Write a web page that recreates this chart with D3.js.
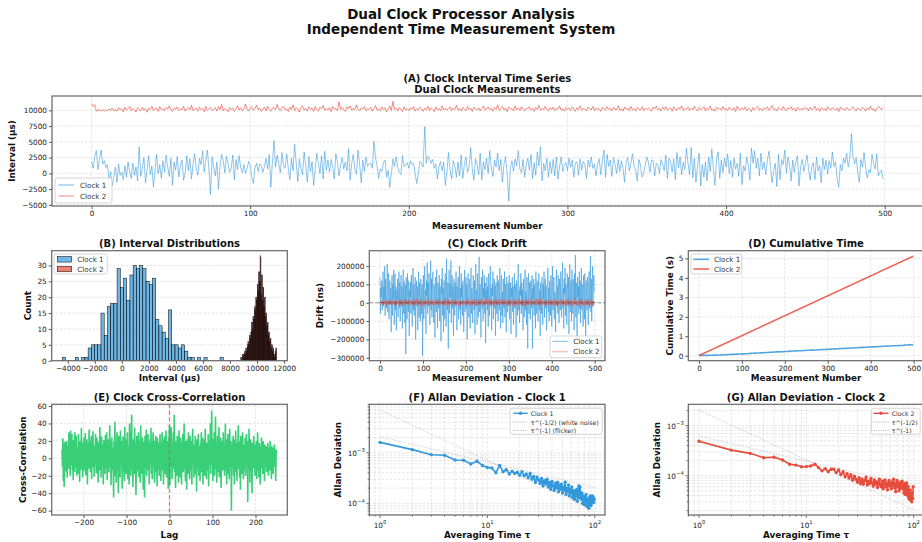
<!DOCTYPE html>
<meta charset="utf-8">
<style>
body { margin: 0; background: #fff; }
svg { font-family: "DejaVu Sans", sans-serif; }
.tick text { font-family: "DejaVu Sans", sans-serif; font-size: 7.3px; fill: #222; }
.tick line { stroke: #555; }
.grid line { stroke: #b0b0b0; stroke-opacity: .55; stroke-width: .6; stroke-dasharray: 2.5,1.6; }
.spine { fill: none; stroke: #666; stroke-width: 1.2; }
.suptitle { font-size: 13.5px; font-weight: bold; text-anchor: middle; fill: #111; }
.title { font-size: 10px; font-weight: bold; text-anchor: middle; fill: #111; }
.label { font-size: 8.8px; font-weight: bold; text-anchor: middle; fill: #111; }
.legend-box { fill: #fff; fill-opacity: .85; stroke: #ccc; stroke-width: .8; }
.legend text { font-size: 7.2px; fill: #333; }
.legend.small text { font-size: 6.2px; }
</style>
<body>
<script src="https://cdn.jsdelivr.net/npm/d3@7"></script>
<script>
// ---- data ----

// Clock 1 interval per measurement, in units of 100 µs
var clock1Interval = [
  19,8,27,36,6,22,37,15,20,9,14,-12,3,-20,-5,10,-14,15,-3,2,-10,12,-6,18,2,
  -8,16,-3,10,-12,42,-5,8,25,-15,6,28,-2,12,-22,5,30,0,14,-8,20,2,29,10,-5,
  24,-19,18,5,27,-6,13,21,-11,0,28,4,23,-9,15,31,8,-3,24,14,36,2,21,37,5,
  -33,26,9,-4,18,-25,12,30,20,1,27,16,2,8,29,-10,22,6,28,10,1,14,0,7,19,
  12,-6,-16,9,16,3,15,12,2,11,24,7,30,-22,18,52,10,29,16,1,33,12,8,31,8,
  -10,24,4,46,17,-13,23,8,-2,34,11,-14,27,3,19,-19,9,32,15,0,28,-9,35,5,21,
  2,22,10,-9,31,18,-4,14,25,7,18,4,39,-11,16,30,5,-1,37,14,-15,21,3,26,11,
  15,16,8,51,24,12,-8,7,3,17,21,-6,5,-22,0,23,11,26,10,2,-2,28,11,13,17,
  8,20,14,16,-1,-16,1,19,16,10,74,16,27,23,16,22,8,15,-9,11,19,4,18,-19,2,
  33,5,-9,20,12,-6,18,-4,29,-8,14,26,2,10,41,7,-11,23,15,-2,32,-10,18,6,24,
  0,36,9,-5,21,10,32,4,22,-14,15,27,-2,-44,8,20,3,23,12,36,7,1,22,-6,14,
  24,5,30,-8,17,-3,34,12,42,-12,16,4,24,-6,19,0,22,-4,26,-9,10,26,3,13,17,
  4,24,10,21,-6,17,18,-3,23,5,19,14,-8,21,10,26,8,15,-4,15,23,-2,20,37,-6,
  30,11,21,-5,25,14,0,22,3,20,8,-14,18,25,4,16,31,11,6,-12,22,14,-6,0,13,
  26,18,2,21,21,-4,16,13,0,22,15,4,29,-8,24,19,2,23,-10,33,9,26,-2,18,6,
  40,16,-2,41,-7,24,-14,11,32,-20,14,-6,18,-12,26,3,39,6,-19,23,34,-8,21,1,24,
  10,31,0,20,-6,24,7,16,-5,32,-18,12,4,26,12,-11,40,16,36,8,24,-4,32,6,18,
  -2,20,35,11,-15,4,16,-21,30,-10,22,14,37,0,26,13,-12,21,2,18,28,-20,10,22,3,
  16,29,7,-11,10,17,-10,26,4,12,-15,24,6,21,-1,20,8,34,11,18,-8,-22,14,4,24,
  16,32,10,23,63,26,15,25,1,-14,22,10,33,8,-7,6,1,30,16,7,31,-4,2,5,-9
];

// Clock 2 interval per measurement, µs
var clock2Interval = [
  11080,10620,10900,9830,10110,9960,9900,10090,9850,10060,9910,10230,10010,10360,9900,10160,9830,10430,10060,10290,9760,10490,10010,10260,10630,
  9940,10310,10080,9720,10400,10150,9880,10520,10020,10280,9690,10340,10120,10660,9950,10210,10400,9830,10580,10090,10250,9910,10470,10180,10730,
  10050,9820,10360,10140,10560,9960,10270,10030,10610,9880,10210,10450,10060,10790,9930,10180,10340,9860,10520,10100,10300,9790,10640,10010,10220,
  10480,9950,10180,10390,9870,10600,10110,10950,9900,10280,10140,9760,10440,10060,10330,9850,10210,10720,10020,10410,9930,10170,11000,10240,9880,
  10330,10560,9990,10250,10820,10070,10380,9820,10160,10500,9940,10620,10130,9860,10310,10450,10080,10930,10200,9970,10360,10640,10050,10240,9800,
  10530,10120,10860,9960,10390,10180,9740,10450,10700,10060,10290,9890,10560,10150,10370,9830,10620,10100,9920,10490,10230,10780,9970,10310,10050,
  10420,9800,10610,10170,10290,9940,11350,10120,10460,10030,9810,10550,10240,10680,9990,10330,10090,10870,10150,9880,10400,10200,10590,9950,10280,
  10130,10460,9850,10310,10750,10010,10230,9930,10520,10080,10400,9760,10190,10650,9990,11400,10120,10340,9900,10470,10180,9810,10560,10050,10270,
  9960,10380,10140,10590,9880,10270,10030,10480,10210,9840,10320,10080,10650,9960,10410,10150,9790,10540,10100,10260,9920,10700,10050,10340,10010,
  10250,10540,9950,10380,10120,10790,10020,10300,9870,10460,10170,9940,10620,10080,10350,9830,10510,10210,10040,10430,9900,10290,10680,10060,10200,
  10540,10090,10320,9860,10460,10150,10880,9970,10250,10610,10040,10380,9800,10520,10190,10290,9930,10730,10080,10400,10010,10560,10160,9890,10340,
  10200,10580,10030,10310,9850,10460,10120,10800,9990,10270,10070,10640,10180,9910,10400,10090,10510,9960,10330,10150,10700,10020,10250,9870,10450,
  10110,10360,9980,10560,10210,9840,10420,10090,10680,10000,10300,10150,9890,10500,10230,10050,10620,9940,10370,10110,10270,9830,10480,10190,10030,
  10580,10120,10340,9930,10470,10170,10050,10730,10010,10290,9880,10520,10140,10350,9970,10610,10080,10260,9900,10440,10200,10030,10550,9960,10320,
  10090,10410,10170,9870,10530,10230,10680,10040,10310,9920,10470,10110,10600,9990,10240,10360,9850,10570,10130,10020,10420,10190,10710,9940,10280,
  10160,10500,9970,10330,10060,10640,10190,9910,10450,10080,10280,10550,9890,10370,10130,10700,10000,10230,9860,10480,10170,10390,10040,10610,10100,
  10330,9950,10520,10180,10060,10410,9820,10650,10240,10010,10380,10120,10560,9900,10300,10210,9780,10470,10090,10340,10600,10030,10250,9940,10420,
  10150,10540,10000,10310,10730,10080,10270,9880,10440,10190,10030,10620,10120,9960,10390,10210,10560,10040,10300,9850,10480,10140,10260,10020,10410,
  10200,10380,9930,10500,10090,10250,10660,10010,10330,9840,10460,10130,10290,9900,10570,10180,10040,10420,10250,9990,10360,9820,10510,10110,10280,
  9960,10440,10180,10030,10320,10570,10090,9900,10380,10160,10020,10490,10250,9860,10410,10130,10700,10050,10280,9830,10240,10600,10380,10090,10460
];

// histogram counts (50 equal bins over each range), µs
var hist1Range = [-4400, 7500];
var hist1Counts = [1,0,0,0,1,0,1,1,4,5,5,5,15,8,17,18,18,29,23,26,19,27,30,29,30,29,25,24,26,13,11,9,7,16,5,5,4,5,3,1,1,0,1,0,1,0,0,0,0,1];
var hist2Range = [8800, 11450];
var hist2Counts = [1,0,2,1,2,3,2,4,3,5,6,5,8,7,9,12,10,14,13,17,16,20,19,24,22,28,25,33,21,27,19,23,17,20,14,15,11,12,8,9,6,7,4,5,3,4,2,1,3,4];

// clock drift, µs (axis shows ns)
var drift1 = [
  140,-60,80,30,120,-40,60,170,-20,90,10,200,-70,130,40,-30,110,210,-50,70,160,-90,50,120,-10,
  80,-160,30,150,-70,100,20,180,-120,60,160,-40,90,-150,70,20,130,-80,40,170,-30,110,-100,60,150,
  -20,90,-140,50,180,-60,120,30,-110,100,-280,140,40,-90,160,10,-50,120,-180,70,30,110,-60,150,20,
  -130,80,190,-40,100,-70,50,140,-200,60,120,-20,90,-150,40,170,-80,110,20,-100,130,60,-60,100,-290,
  30,150,-90,80,200,-30,70,-170,120,40,220,-60,110,-20,160,50,-120,90,230,-40,130,-80,60,170,20,
  -110,100,40,-190,140,60,-50,180,20,-140,110,70,-30,150,-100,90,30,-210,130,50,190,-70,80,-160,120,
  40,-90,160,20,-130,240,60,-40,110,-250,80,180,-60,100,30,230,-110,70,150,-30,90,-180,130,50,-70,
  110,-20,170,60,-150,90,20,140,-90,50,200,-40,80,-120,160,30,100,-70,120,10,-160,90,180,-50,60,
  140,-30,100,-200,70,160,20,-80,130,50,-140,110,190,-60,80,30,-110,150,60,-40,120,-170,90,210,-20,
  70,-120,160,40,-80,130,250,-50,100,20,-190,140,60,-30,180,-100,80,30,150,-60,110,-220,70,20,140,
  -40,90,-130,160,50,-70,120,200,-20,80,-150,100,40,170,-90,60,130,-30,90,-180,110,30,-60,150,20,
  -100,120,60,-40,190,10,-140,90,150,-70,60,-110,130,40,-30,170,-80,100,20,-160,140,50,-50,110,80,
  -20,150,-90,60,110,-170,80,30,140,-50,90,-120,60,160,-30,100,40,-190,120,20,-70,130,210,-40,70,
  -110,90,40,160,-60,110,-20,70,-150,130,30,-80,100,180,-40,60,-120,140,20,-250,90,160,-60,110,40,
  -90,120,60,-30,150,-250,80,20,130,-70,100,40,-140,170,10,-60,120,50,-100,90,160,-40,70,-180,110,
  30,-60,140,80,-120,100,20,170,-80,60,130,-30,90,-150,40,110,190,-50,80,-100,120,30,-70,150,50,
  -130,100,200,-40,70,140,-90,60,20,-160,120,180,-20,90,-60,150,40,-110,130,70,-40,170,10,-80,110,
  220,-30,80,-140,130,50,190,-70,100,30,-120,160,60,-20,140,-170,90,210,-50,70,120,-100,180,40,-60,
  130,80,-150,160,20,260,-80,110,50,-200,140,30,90,-60,170,-30,120,-110,60,190,-40,100,20,-130,150,
  70,-90,160,30,-180,120,50,-40,140,80,-120,100,170,-30,90,255,-50,130,-100,60,200,-20,110,150,60
];
var drift2 = [
  5,-3,8,-10,2,12,-6,4,-15,9,-2,6,-8,14,1,-5,10,-12,3,7,-4,11,-9,2,6,
  -7,13,-1,4,-11,8,15,-6,3,-14,9,1,-5,12,-9,6,-2,17,-8,4,10,-13,2,7,-4,
  11,-6,3,-16,8,1,14,-9,5,-3,19,-7,2,10,-12,6,-1,13,-10,4,8,-5,16,-8,3,
  -2,9,-13,6,12,-4,1,-11,15,-7,4,22,-9,2,-6,11,-15,7,3,-10,14,-3,6,-18,9,
  1,-8,12,-5,7,16,-12,3,-4,10,-9,5,18,-6,2,-13,9,-1,6,-10,13,-7,4,11,-3,
  -16,8,2,-6,14,-11,5,9,-3,20,-8,1,-12,7,15,-5,3,-9,11,-2,6,-14,10,-4,12,
  4,-10,7,25,-6,2,-13,9,-1,14,-8,5,-17,11,3,-6,16,-9,1,8,-12,6,-3,13,-7,
  9,-4,17,-11,3,6,-8,12,-15,2,10,-5,7,-20,4,13,-2,8,-10,16,-6,1,11,-9,5,
  -12,6,3,-7,14,-4,22,-10,5,-2,9,-16,12,1,-6,15,-11,4,7,-3,18,-9,2,-14,8,
  3,-9,11,-1,6,-13,16,-5,8,2,-11,14,-7,20,-3,5,-15,10,1,-8,12,-4,24,-10,6,
  -5,13,-8,2,17,-12,4,9,-3,15,-10,6,-1,11,-16,7,3,-9,14,-6,19,-2,8,-13,5,
  10,-7,4,-14,12,1,-5,18,-9,6,-2,13,-11,3,21,-8,5,-4,9,-15,11,2,-7,16,-3,
  -8,14,2,-10,6,17,-4,9,-13,3,11,-6,15,-1,-18,8,4,-9,12,-3,7,-12,19,-5,1,
  6,-11,13,-2,8,-15,10,3,-7,16,-4,1,-20,12,5,-9,14,-3,7,-12,22,-6,2,-10,9,
  -4,11,-9,18,1,-6,12,-14,5,9,-2,15,-11,3,-7,20,-5,8,-13,4,10,-1,-16,6,13,
  2,-12,7,-3,16,-8,4,11,-10,6,-17,13,1,-5,9,-14,18,-6,3,8,-9,14,-2,-11,5,
  12,-5,-15,9,3,-7,21,-10,6,1,-13,15,-4,8,-18,10,2,-8,13,-3,6,-11,17,-6,4,
  -9,16,3,-12,7,-1,11,-16,4,14,-6,2,-10,19,-5,8,-14,6,1,-8,15,-3,9,-20,11,
  5,-7,12,-4,28,-10,6,-13,9,2,-17,13,-1,7,-11,16,-6,3,-9,21,-4,10,-15,5,-2,
  8,-14,4,11,-6,15,-9,1,-12,17,-3,6,-18,9,2,-7,13,-11,4,-5,10,-16,7,-1,3
];

// cross-correlation, lags -250 .. 249
var crossCorr = [
  10,-10,23,-26,18,-33,5,19,-15,12,-5,20,-22,8,15,-12,30,-3,18,-20,32,5,-8,28,-14,
  14,-25,21,0,-16,30,6,-11,26,-20,12,3,-18,28,-7,15,-27,20,2,-13,35,-4,10,-22,18,
  -9,24,-14,6,29,-19,11,-2,22,-30,8,17,-12,33,-6,20,-16,4,26,-24,13,-1,31,-10,7,
  -21,15,-7,28,2,-17,24,-11,10,-28,19,5,-14,36,-4,12,-22,25,-9,16,3,-30,21,-6,11,
  -18,27,0,-12,30,-25,14,-3,22,-16,8,38,-10,19,-31,5,24,-14,12,-7,-45,20,-20,42,-2,
  16,-28,10,30,-13,6,-40,26,-5,14,-22,32,-9,3,20,-35,11,25,-15,8,-26,36,-4,15,-18,
  22,-8,30,-24,6,14,-30,40,-6,18,-20,28,50,-12,10,-33,22,2,-18,35,-10,16,-42,8,26,
  -15,12,-5,30,-22,20,4,-28,38,-8,15,-18,24,-2,-36,19,8,-45,26,-12,10,33,-20,5,-8,
  28,-14,18,-30,10,22,-6,35,-18,4,-24,15,30,-10,8,-28,20,-4,26,-16,12,-32,24,2,-12,
  18,-20,10,28,-8,-26,16,4,30,-14,22,-30,12,-3,25,-18,8,32,-22,14,-6,20,-35,10,24,
  38,-30,22,-10,36,6,-24,18,-12,30,-8,50,-16,12,-34,20,4,-20,26,-10,16,-28,32,-4,10,
  -22,24,8,-30,18,-6,28,-16,12,40,-12,4,-26,20,-2,-36,22,10,-18,30,-8,14,-24,26,2,
  -14,20,-30,12,34,-6,16,-22,8,-2,26,-18,10,-38,22,4,-12,28,-20,14,6,-26,18,-8,30,
  -16,10,24,-30,14,-4,22,-20,34,-10,6,-24,18,2,-14,28,-32,12,20,-8,40,-18,16,55,-6,
  14,-26,22,-10,30,-20,8,48,-12,18,-28,10,26,-16,4,36,-22,14,-6,24,-34,12,-2,20,-14,
  30,-8,16,-20,6,40,-14,22,-30,10,-4,28,-18,12,-24,34,-10,6,20,-60,16,-12,8,26,-20,
  14,-30,22,-6,32,-16,10,-26,18,4,38,-12,20,-22,8,-36,26,-4,14,-18,30,-8,-24,16,6,
  -14,24,-20,10,28,-6,16,-50,20,-10,34,-2,-28,14,22,-16,8,-40,18,4,-12,26,-6,12,-20,
  16,-8,20,-24,10,30,-14,6,-22,18,2,-30,14,-6,24,-12,8,-18,20,-4,12,-26,16,-10,6,
  14,-16,10,-8,18,-20,12,2,-14,20,-6,10,-24,14,-2,12,-18,8,-10,16,-4,10,-26,6,10
];

// Allan deviation for tau = 1..99, in units of 1e-4
var adev1 = [
  16.0,11.5,9.1,8.9,7.2,7.1,6.0,6.8,5.6,5.1,5.0,4.0,5.6,4.2,4.6,3.8,4.3,3.9,4.1,3.6,
  4.2,3.5,3.8,3.2,3.9,3.0,3.4,2.6,3.3,2.9,2.5,3.1,2.2,2.8,2.4,3.0,2.1,2.6,1.9,2.7,
  2.2,1.8,2.5,2.0,2.6,1.7,2.3,1.9,2.4,1.6,2.1,1.8,2.6,1.5,2.0,1.7,2.3,1.4,1.9,1.6,
  2.1,1.3,1.8,1.5,1.2,1.7,1.4,1.9,1.1,1.6,2.2,1.3,2.1,1.5,1.2,1.6,1.0,1.4,1.2,0.95,
  1.3,1.1,1.5,0.9,1.2,0.85,1.1,0.8,1.3,1.0,1.4,0.9,1.2,1.0,1.4,1.1,1.3,1.05,1.2
];
var adev2 = [
  4.9,3.25,2.8,2.28,2.35,2.06,1.69,1.63,1.51,1.52,1.56,1.7,1.45,1.25,1.38,1.2,1.35,1.35,1.15,1.3,
  1.05,1.2,0.95,1.1,0.9,1.05,0.82,0.98,0.85,0.75,0.9,0.7,0.85,0.68,0.8,0.92,0.65,0.78,0.7,0.88,
  0.72,0.62,0.82,0.68,0.75,0.58,0.72,0.85,0.65,0.6,0.78,0.55,0.7,0.82,0.6,0.72,0.52,0.68,0.8,0.62,
  0.7,0.55,0.75,0.65,0.85,0.58,0.7,0.48,0.66,0.8,0.6,0.72,0.5,0.68,0.56,0.74,0.62,0.78,0.55,0.66,
  0.45,0.7,0.58,0.42,0.65,0.72,0.5,0.4,0.6,0.36,0.48,0.33,0.52,0.38,0.42,0.3,0.45,0.35,0.6
];
// reference slopes, [tau, value] at both ends
var white1 = [[1, 2.07e-3], [99, 2.08e-4]];
var flicker1 = [[1, 7.0e-3], [99, 7.1e-5]];
var white2 = [[1, 6.2e-4], [99, 6.2e-5]];
var flicker2 = [[1, 2.06e-3], [99, 2.1e-5]];

var BLUE = "#3498db", RED = "#e74c3c", GREEN = "#2ecc71";

// ---- helpers ----
var svg = d3.select("body").append("svg").attr("width", 922).attr("height", 542);
var clipCount = 0;

function makePanel(box) {
  var g = svg.append("g");
  var id = "clip" + (clipCount++);
  g.append("clipPath").attr("id", id).append("rect")
    .attr("x", box.x0).attr("y", box.y0)
    .attr("width", box.x1 - box.x0).attr("height", box.y1 - box.y0);
  return {
    box: box,
    grid: g.append("g").attr("class", "grid"),
    plot: g.append("g").attr("clip-path", "url(#" + id + ")"),
    axes: g.append("g")
  };
}

function spines(p) {
  var b = p.box;
  p.axes.append("rect").attr("class", "spine")
    .attr("x", b.x0).attr("y", b.y0).attr("width", b.x1 - b.x0).attr("height", b.y1 - b.y0);
}

function gridLines(p, x, y, xs, ys) {
  var b = p.box;
  p.grid.selectAll("line.gx").data(xs).join("line").attr("class", "gx")
    .attr("x1", x).attr("x2", x).attr("y1", b.y0).attr("y2", b.y1);
  p.grid.selectAll("line.gy").data(ys).join("line").attr("class", "gy")
    .attr("y1", y).attr("y2", y).attr("x1", b.x0).attr("x2", b.x1);
}

function linearAxes(p, x, y, xTicks, yTicks, gridMode) {
  var b = p.box;
  gridLines(p, x, y, gridMode === "y" ? [] : xTicks, yTicks);
  var fmt = d3.format("d");
  p.axes.append("g").attr("transform", "translate(0," + b.y1 + ")")
    .call(d3.axisBottom(x).tickValues(xTicks).tickFormat(fmt).tickSize(3).tickPadding(2))
    .call(function (g) { g.select(".domain").remove(); });
  p.axes.append("g").attr("transform", "translate(" + b.x0 + ",0)")
    .call(d3.axisLeft(y).tickValues(yTicks).tickFormat(fmt).tickSize(3).tickPadding(2))
    .call(function (g) { g.select(".domain").remove(); });
  spines(p);
}

function powLabel(sel, e) {
  sel.append("tspan").text("10");
  sel.append("tspan").attr("dy", -3.6).attr("font-size", "5.3px").text(e < 0 ? "\u2212" + (-e) : e);
}

function logAxes(p, x, y) {
  var b = p.box;
  function decadeTicks(scale) {
    var d = scale.domain(), lo = Math.floor(Math.log10(d[0])), hi = Math.ceil(Math.log10(d[1]));
    var major = [], minor = [];
    for (var e = lo; e <= hi; e++) {
      for (var k = 1; k < 10; k++) {
        var v = k * Math.pow(10, e);
        if (v < d[0] || v > d[1]) continue;
        (k === 1 ? major : minor).push({ v: v, e: e });
      }
    }
    return { major: major, minor: minor };
  }
  var tx = decadeTicks(x), ty = decadeTicks(y);
  gridLines(p, function (d) { return x(d.v); }, function (d) { return y(d.v); },
    tx.major.concat(tx.minor), ty.major.concat(ty.minor));
  var ax = p.axes.append("g");
  ax.selectAll(null).data(tx.major.concat(tx.minor)).join("line")
    .attr("x1", function (d) { return x(d.v); }).attr("x2", function (d) { return x(d.v); })
    .attr("y1", b.y1).attr("y2", function (d) { return b.y1 + (tx.major.indexOf(d) >= 0 ? 3 : 1.7); })
    .attr("stroke", "#555").attr("stroke-width", .8);
  ax.selectAll(null).data(ty.major.concat(ty.minor)).join("line")
    .attr("y1", function (d) { return y(d.v); }).attr("y2", function (d) { return y(d.v); })
    .attr("x1", b.x0).attr("x2", function (d) { return b.x0 - (ty.major.indexOf(d) >= 0 ? 3 : 1.7); })
    .attr("stroke", "#555").attr("stroke-width", .8);
  tx.major.forEach(function (d) {
    var t = ax.append("text").attr("x", x(d.v)).attr("y", b.y1 + 12.5)
      .attr("text-anchor", "middle").attr("font-size", "7.3px").attr("fill", "#222");
    powLabel(t, d.e);
  });
  ty.major.forEach(function (d) {
    var t = ax.append("text").attr("x", b.x0 - 4.5).attr("y", y(d.v) + 2.8)
      .attr("text-anchor", "end").attr("font-size", "7.3px").attr("fill", "#222");
    powLabel(t, d.e);
  });
  spines(p);
}

function titles(p, lines, xLabel, xLabelY, yLabel, yLabelX) {
  var b = p.box, cx = (b.x0 + b.x1) / 2;
  lines.forEach(function (l) {
    svg.append("text").attr("class", "title").attr("x", cx).attr("y", l.y).text(l.text);
  });
  svg.append("text").attr("class", "label").attr("x", cx).attr("y", xLabelY).text(xLabel);
  var cy = (b.y0 + b.y1) / 2;
  svg.append("text").attr("class", "label")
    .attr("transform", "translate(" + yLabelX + "," + cy + ") rotate(-90)").text(yLabel);
}

function legend(box, rows, small) {
  var g = svg.append("g").attr("class", small ? "legend small" : "legend");
  g.append("rect").attr("class", "legend-box").attr("rx", 2)
    .attr("x", box.x).attr("y", box.y).attr("width", box.w).attr("height", box.h);
  rows.forEach(function (r) {
    if (r.kind === "patch") {
      g.append("rect").attr("x", box.sx0).attr("y", r.y - 2.8).attr("width", box.sx1 - box.sx0).attr("height", 5.6)
        .attr("fill", r.color).attr("fill-opacity", .7).attr("stroke", "#000").attr("stroke-width", .5);
    } else {
      g.append("line").attr("x1", box.sx0).attr("x2", box.sx1).attr("y1", r.y).attr("y2", r.y)
        .attr("stroke", r.color).attr("stroke-width", r.width).attr("stroke-opacity", r.opacity || 1)
        .attr("stroke-dasharray", r.dash || null);
      if (r.marker) g.append("circle").attr("cx", (box.sx0 + box.sx1) / 2).attr("cy", r.y).attr("r", 1.7).attr("fill", r.color);
    }
    g.append("text").attr("x", box.tx).attr("y", r.y + 2.5).text(r.label);
  });
}

// ---- figure titles ----
svg.append("text").attr("class", "suptitle").attr("x", 461).attr("y", 18.5).text("Dual Clock Processor Analysis");
svg.append("text").attr("class", "suptitle").attr("x", 461).attr("y", 33.5).text("Independent Time Measurement System");

var clock1Us = clock1Interval.map(function (v) { return v * 100; });

// ---- (A) interval time series ----
var pA = makePanel({ x0: 52, y0: 96, x1: 922.7, y1: 206 });
var xA = d3.scaleLinear().domain([-24.95, 523.95]).range([52, 922.7]);
var yA = d3.scaleLinear().domain([-5180, 12270]).range([206, 96]);
linearAxes(pA, xA, yA, d3.range(0, 501, 100), d3.range(-5000, 10001, 2500));
pA.plot.append("path").datum(clock1Us)
  .attr("d", d3.line().x(function (d, i) { return xA(i); }).y(function (d) { return yA(d); }))
  .attr("fill", "none").attr("stroke", BLUE).attr("stroke-width", .75).attr("stroke-opacity", .75);
pA.plot.append("path").datum(clock2Interval)
  .attr("d", d3.line().x(function (d, i) { return xA(i); }).y(function (d) { return yA(d); }))
  .attr("fill", "none").attr("stroke", RED).attr("stroke-width", .8).attr("stroke-opacity", .8);
titles(pA, [{ text: "(A) Clock Interval Time Series", y: 81.5 }, { text: "Dual Clock Measurements", y: 92.5 }],
  "Measurement Number", 229, "Interval (\u00b5s)", 15);
legend({ x: 55, y: 178, w: 57, h: 25, sx0: 58.5, sx1: 74, tx: 80 },
  [{ label: "Clock 1", color: BLUE, width: .9, opacity: .75, y: 185 },
   { label: "Clock 2", color: RED, width: .9, opacity: .75, y: 196 }]);

// ---- (B) histograms ----
var pB = makePanel({ x0: 51.7, y0: 250.7, x1: 287.3, y1: 360.7 });
var xB = d3.scaleLinear().domain([-5190, 12240]).range([51.7, 287.3]);
var yB = d3.scaleLinear().domain([0, 34.65]).range([360.7, 250.7]);
linearAxes(pB, xB, yB, d3.range(-4000, 12001, 2000), d3.range(0, 31, 5), "y");
function histBars(counts, range, color, edge) {
  var w = (range[1] - range[0]) / counts.length;
  var bins = counts.map(function (c, i) { return { c: c, lo: range[0] + i * w }; }).filter(function (d) { return d.c > 0; });
  pB.plot.append("g").selectAll("rect").data(bins).join("rect")
    .attr("x", function (d) { return xB(d.lo); })
    .attr("width", xB(range[0] + w) - xB(range[0]))
    .attr("y", function (d) { return yB(d.c); })
    .attr("height", function (d) { return yB(0) - yB(d.c); })
    .attr("fill", color).attr("fill-opacity", .7).attr("stroke", "#000").attr("stroke-width", edge);
}
histBars(hist1Counts, hist1Range, BLUE, .5);
histBars(hist2Counts, hist2Range, RED, .6);
titles(pB, [{ text: "(B) Interval Distributions", y: 246.8 }], "Interval (\u00b5s)", 381, "Count", 31);
legend({ x: 54, y: 254, w: 53.3, h: 20, sx0: 57.3, sx1: 71.7, tx: 77.3 },
  [{ kind: "patch", label: "Clock 1", color: BLUE, y: 259.3 },
   { kind: "patch", label: "Clock 2", color: RED, y: 269 }]);

// ---- (C) drift ----
var pC = makePanel({ x0: 369.3, y0: 250.7, x1: 605, y1: 360.7 });
var xC = d3.scaleLinear().domain([-24.95, 523.95]).range([369.3, 605]);
var yC = d3.scaleLinear().domain([-316000, 284000]).range([360.7, 250.7]);
linearAxes(pC, xC, yC, d3.range(0, 501, 100), d3.range(-300000, 200001, 100000));
var driftLine = d3.line().x(function (d, i) { return xC(i); }).y(function (d) { return yC(d * 1000); });
pC.plot.append("path").datum(drift1).attr("d", driftLine)
  .attr("fill", "none").attr("stroke", BLUE).attr("stroke-width", .9).attr("stroke-opacity", .65);
pC.plot.append("path").datum(drift2).attr("d", driftLine)
  .attr("fill", "none").attr("stroke", RED).attr("stroke-width", 1.5).attr("stroke-opacity", .6);
pC.plot.append("line").attr("x1", 369.3).attr("x2", 605).attr("y1", yC(0)).attr("y2", yC(0))
  .attr("stroke", "#000").attr("stroke-opacity", .5).attr("stroke-width", .8).attr("stroke-dasharray", "4,2");
titles(pC, [{ text: "(C) Clock Drift", y: 246.8 }], "Measurement Number", 381, "Drift (ns)", 323);
legend({ x: 550, y: 336, w: 51.7, h: 21.7, sx0: 552.3, sx1: 567.7, tx: 573.3 },
  [{ label: "Clock 1", color: BLUE, width: 1, opacity: .65, y: 341.3 },
   { label: "Clock 2", color: RED, width: 1.5, opacity: .35, y: 351.7 }]);

// ---- (D) cumulative time ----
var pD = makePanel({ x0: 688.3, y0: 250.7, x1: 923.9, y1: 360.7 });
var xD = d3.scaleLinear().domain([-24.95, 523.95]).range([688.3, 923.9]);
var yD = d3.scaleLinear().domain([-0.257, 5.4]).range([360.7, 250.7]);
linearAxes(pD, xD, yD, d3.range(0, 501, 100), d3.range(0, 6, 1));
var cum1 = Array.from(d3.cumsum(clock1Us), function (v) { return v / 1e6; });
var cum2 = Array.from(d3.cumsum(clock2Interval), function (v) { return v / 1e6; });
var cumLine = d3.line().x(function (d, i) { return xD(i); }).y(function (d) { return yD(d); });
pD.plot.append("path").datum(cum1).attr("d", cumLine).attr("fill", "none").attr("stroke", BLUE).attr("stroke-width", 1.6).attr("stroke-opacity", .85);
pD.plot.append("path").datum(cum2).attr("d", cumLine).attr("fill", "none").attr("stroke", RED).attr("stroke-width", 1.6).attr("stroke-opacity", .85);
titles(pD, [{ text: "(D) Cumulative Time", y: 246.8 }], "Measurement Number", 381, "Cumulative Time (s)", 673);
legend({ x: 691, y: 254, w: 50.7, h: 20, sx0: 693.3, sx1: 709, tx: 714 },
  [{ label: "Clock 1", color: BLUE, width: 1.6, opacity: .85, y: 259.3 },
   { label: "Clock 2", color: RED, width: 1.6, opacity: .85, y: 269 }]);

// ---- (E) cross-correlation ----
var pE = makePanel({ x0: 51.7, y0: 404.3, x1: 287.3, y1: 515 });
var xE = d3.scaleLinear().domain([-274, 274]).range([51.7, 287.3]);
var yE = d3.scaleLinear().domain([-65, 62]).range([515, 404.3]);
linearAxes(pE, xE, yE, d3.range(-200, 201, 100), d3.range(-60, 61, 20));
pE.plot.append("path").datum(crossCorr)
  .attr("d", d3.line().x(function (d, i) { return xE(i - 250); }).y(function (d) { return yE(d); }))
  .attr("fill", "none").attr("stroke", GREEN).attr("stroke-width", 1.6).attr("stroke-opacity", .95);
pE.plot.append("line").attr("x1", xE(0)).attr("x2", xE(0)).attr("y1", 404.3).attr("y2", 515)
  .attr("stroke", RED).attr("stroke-opacity", .75).attr("stroke-width", 1.3).attr("stroke-dasharray", "4,2.5");
titles(pE, [{ text: "(E) Clock Cross-Correlation", y: 400.8 }], "Lag", 538, "Cross-Correlation", 25.5);

// ---- (F)/(G) Allan deviation ----
var taus = d3.range(1, 100);
function allanPanel(box, yDomain, values, color, white, flicker, title, yLabelX, leg) {
  var p = makePanel(box);
  var x = d3.scaleLog().domain([Math.pow(10, -0.0998), Math.pow(10, 2.0954)]).range([box.x0, box.x1]);
  var y = d3.scaleLog().domain(yDomain).range([box.y1, box.y0]);
  logAxes(p, x, y);
  var ln = d3.line().x(function (d) { return x(d[0]); }).y(function (d) { return y(d[1]); });
  [white, flicker].forEach(function (ref) {
    p.plot.append("path").datum(ref).attr("d", ln).attr("fill", "none")
      .attr("stroke", "#999").attr("stroke-opacity", .7).attr("stroke-width", .8).attr("stroke-dasharray", "1,1.4");
  });
  var pts = values.map(function (v, i) { return [taus[i], v * 1e-4]; });
  p.plot.append("path").datum(pts).attr("d", ln).attr("fill", "none").attr("stroke", color).attr("stroke-width", 1.6);
  p.plot.append("g").selectAll("circle").data(pts).join("circle")
    .attr("cx", function (d) { return x(d[0]); }).attr("cy", function (d) { return y(d[1]); })
    .attr("r", 1.7).attr("fill", color);
  titles(p, [{ text: title, y: 400.8 }], "Averaging Time \u03c4", 538, "Allan Deviation", yLabelX);
  legend(leg.box, [
    { label: leg.labels[0], color: color, width: 1.4, marker: true, y: 413.3 },
    { label: leg.labels[1], color: "#999", width: .8, dash: "1,1.4", y: 422 },
    { label: leg.labels[2], color: "#999", width: .8, dash: "1,1.4", y: 430.5 }
  ], true);
}
allanPanel({ x0: 369.3, y0: 404.3, x1: 605, y1: 515 }, [Math.pow(10, -4.231), Math.pow(10, -2.043)],
  adev1, BLUE, white1, flicker1, "(F) Allan Deviation - Clock 1", 341,
  { box: { x: 510, y: 408.3, w: 92.3, h: 26, sx0: 513.3, sx1: 527.7, tx: 530.7 },
    labels: ["Clock 1", "\u03c4^(-1/2) (white noise)", "\u03c4^(-1) (flicker)"] });
allanPanel({ x0: 688.3, y0: 404.3, x1: 923.9, y1: 515 }, [Math.pow(10, -4.786), Math.pow(10, -2.572)],
  adev2, RED, white2, flicker2, "(G) Allan Deviation - Clock 2", 659.5,
  { box: { x: 871.7, y: 408.3, w: 48.5, h: 26, sx0: 873.5, sx1: 888.5, tx: 891.7 },
    labels: ["Clock 2", "\u03c4^(-1/2)", "\u03c4^(-1)"] });
</script>
</body>
